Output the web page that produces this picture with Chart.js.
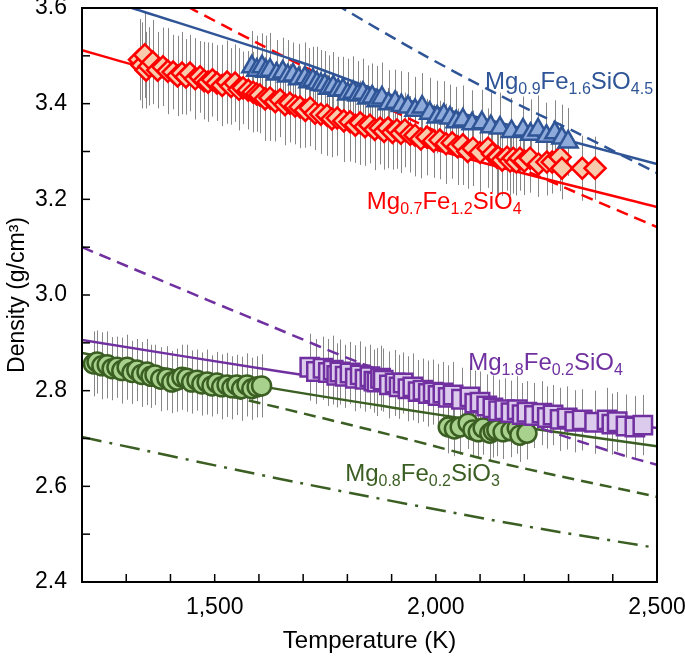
<!DOCTYPE html>
<html>
<head>
<meta charset="utf-8">
<script src="https://cdn.jsdelivr.net/npm/chart.js@4.4.1/dist/chart.umd.min.js"></script>
<style>
  html, body { margin: 0; padding: 0; background: #fff; }
  #wrap { width: 685px; height: 656px; }
</style>
</head>
<body>
<div id="wrap"><canvas id="densityChart" width="685" height="656"></canvas></div>
<script>
// Measured points (temperature K, density g/cm3, half error bar)
const redT = [1330,1336,1342,1345,1352,1360,1371,1383,1394,1406,1416,1426,1435,1444,1456,1467,1476,1485,1495,1505,
              1517,1528,1537,1546,1555,1564,1576,1587,1595,1602,1614,1625,1637,1648,1659,1670,1682,1693,1705,1716,
              1727,1740,1754,1765,1777,1792,1806,1818,1829,1840,1851,1862,1874,1883,1892,1902,1912,1921,1930,1942,
              1953,1966,1980,1995,2009,2023,2037,2049,2061,2072,2084,2100,2118,2128,2138,2141,2150,2161,2168,2175,
              2182,2190,2200,2213,2232,2251,2263,2281,2285,2331,2360];
const redRho = [3.492,3.480,3.502,3.470,3.478,3.487,3.470,3.477,3.468,3.466,3.458,3.464,3.456,3.464,3.452,3.456,3.448,3.445,3.450,3.443,
                3.438,3.445,3.436,3.443,3.430,3.433,3.428,3.424,3.420,3.418,3.410,3.412,3.404,3.408,3.398,3.401,3.395,3.393,3.386,3.391,
                3.380,3.378,3.376,3.368,3.370,3.364,3.362,3.355,3.360,3.352,3.355,3.346,3.349,3.342,3.349,3.340,3.345,3.338,3.345,3.336,
                3.334,3.326,3.330,3.322,3.324,3.316,3.318,3.310,3.314,3.300,3.307,3.298,3.307,3.295,3.288,3.288,3.282,3.288,3.280,3.286,
                3.278,3.286,3.280,3.286,3.274,3.278,3.278,3.288,3.265,3.265,3.265];
const redErr = [0.085,0.09,0.09,0.08,0.082,0.088,0.08,0.082,0.09,0.078,0.084,0.086,0.079,0.08,0.085,0.075,0.081,0.083,0.077,0.079,
                0.085,0.087,0.08,0.081,0.086,0.076,0.082,0.084,0.079,0.08,0.088,0.09,0.083,0.078,0.085,0.082,0.08,0.086,0.078,0.08,
                0.077,0.083,0.085,0.08,0.079,0.086,0.083,0.079,0.088,0.082,0.08,0.085,0.076,0.08,0.084,0.078,0.081,0.083,0.078,0.08,
                0.086,0.082,0.08,0.077,0.082,0.084,0.075,0.08,0.084,0.078,0.079,0.082,0.083,0.08,0.077,0.081,0.075,0.07,0.072,0.074,
                0.07,0.068,0.071,0.072,0.069,0.07,0.066,0.071,0.065,0.068,0.066];

const blueT = [1584,1595,1607,1616,1625,1640,1654,1665,1677,1690,1704,1713,1722,1731,1740,1749,1758,1768,1779,1790,
               1801,1813,1824,1835,1846,1856,1867,1878,1893,1908,1922,1937,1953,1969,1986,2003,2018,2032,2046,2061,
               2082,2104,2124,2145,2171,2197,2214,2231,2250,2269,2285,2299];
const blueRho = [3.477,3.470,3.477,3.468,3.470,3.462,3.466,3.458,3.460,3.452,3.454,3.446,3.449,3.443,3.440,3.439,3.432,3.435,3.428,3.429,
                 3.420,3.424,3.418,3.422,3.412,3.414,3.406,3.412,3.400,3.403,3.396,3.393,3.386,3.393,3.380,3.372,3.376,3.370,3.362,3.366,
                 3.358,3.360,3.352,3.349,3.342,3.345,3.336,3.345,3.332,3.339,3.328,3.320];
const blueErr = [0.075,0.072,0.07,0.074,0.078,0.071,0.072,0.075,0.068,0.073,0.074,0.07,0.07,0.076,0.072,0.071,0.069,0.073,0.07,0.069,
                 0.074,0.075,0.071,0.072,0.068,0.07,0.073,0.074,0.07,0.068,0.072,0.073,0.07,0.071,0.074,0.076,0.071,0.07,0.073,0.072,
                 0.07,0.069,0.072,0.074,0.07,0.07,0.073,0.072,0.07,0.068,0.07,0.071];

const purpleT = [1715,1730,1745,1757,1768,1776,1783,1795,1806,1818,1829,1840,1851,1860,1867,1875,1881,1895,1908,1917,
                 1926,1937,1948,1960,1971,1983,1994,2005,2016,2028,2039,2058,2077,2088,2100,2115,2129,2142,2156,2170,
                 2184,2195,2206,2223,2240,2252,2265,2281,2297,2314,2331,2359,2387,2398,2410,2430,2450,2468];
const purpleRho = [2.849,2.840,2.847,2.838,2.843,2.832,2.839,2.830,2.837,2.826,2.833,2.824,2.829,2.820,2.818,2.826,2.822,2.812,2.816,2.808,
                   2.816,2.804,2.808,2.798,2.801,2.794,2.797,2.790,2.795,2.786,2.791,2.782,2.787,2.774,2.776,2.768,2.764,2.758,2.760,2.754,
                   2.760,2.750,2.755,2.748,2.753,2.744,2.749,2.740,2.743,2.736,2.739,2.734,2.739,2.730,2.735,2.726,2.724,2.728];
const purpleErr = [0.07,0.068,0.066,0.07,0.072,0.067,0.068,0.066,0.065,0.069,0.07,0.068,0.067,0.066,0.071,0.068,0.066,0.07,0.069,0.067,
                   0.064,0.068,0.07,0.066,0.066,0.069,0.068,0.066,0.065,0.067,0.069,0.066,0.067,0.068,0.064,0.066,0.068,0.065,0.066,0.067,
                   0.07,0.066,0.065,0.068,0.067,0.065,0.063,0.066,0.066,0.065,0.064,0.066,0.067,0.064,0.062,0.066,0.065,0.063];

const greenT = [1226,1234,1245,1257,1268,1279,1290,1302,1313,1324,1335,1347,1356,1365,1378,1392,1403,1415,1426,1437,
                1448,1460,1471,1483,1494,1505,1516,1528,1539,1550,1561,1573,1584,1596,1606,
                2028,2042,2055,2073,2084,2096,2107,2122,2130,2138,2152,2170,2184,2190,2206];
const greenRho = [2.856,2.860,2.852,2.854,2.846,2.849,2.842,2.849,2.838,2.843,2.834,2.839,2.830,2.833,2.824,2.826,2.818,2.822,2.828,2.826,
                  2.818,2.822,2.814,2.818,2.810,2.816,2.808,2.812,2.806,2.812,2.804,2.812,2.804,2.808,2.810,
                  2.724,2.720,2.724,2.732,2.718,2.714,2.722,2.711,2.716,2.718,2.714,2.716,2.722,2.707,2.711];
const greenErr = [0.068,0.066,0.07,0.07,0.066,0.064,0.069,0.068,0.066,0.065,0.068,0.069,0.066,0.063,0.067,0.067,0.065,0.066,0.068,0.07,
                  0.066,0.064,0.066,0.068,0.064,0.065,0.068,0.067,0.066,0.063,0.067,0.066,0.065,0.064,0.066,
                  0.055,0.057,0.058,0.054,0.057,0.055,0.056,0.059,0.056,0.055,0.057,0.055,0.054,0.056,0.055];

// Model curves
const blueSolidT = [1200,1313,1693,1919,2145,2500];
const blueSolidRho = [3.633,3.600,3.487,3.412,3.360,3.274];
const blueDashT = [1700,1788,1964,2145,2326,2500];
const blueDashRho = [3.648,3.600,3.506,3.417,3.336,3.255];
const redSolidT = [1200,1286,1693,2100,2500];
const redSolidRho = [3.512,3.489,3.385,3.278,3.184];
const redDashT = [1400,1444,1596,1731,1980,2288,2500];
const redDashRho = [3.620,3.600,3.527,3.464,3.351,3.226,3.142];
const purpleSolidT = [1200,1648,2500];
const purpleSolidRho = [2.906,2.840,2.722];
const purpleDashT = [1200,1483,1632,1829,2229,2423,2500];
const purpleDashRho = [3.100,2.990,2.933,2.858,2.724,2.665,2.645];
const greenSolidT = [1200,1600,1900,2200,2500];
const greenSolidRho = [2.879,2.810,2.765,2.723,2.684];
const greenDashT = [1200,1648,1926,2145,2500];
const greenDashRho = [2.860,2.764,2.701,2.649,2.578];
const greenDashDotT = [1200,1693,2190,2500];
const greenDashDotRho = [2.703,2.607,2.519,2.471];

// Composition labels: normal / subscript alternating
const blueLabel = ['Mg','0.9','Fe','1.6','SiO','4.5'];
const redLabel = ['Mg','0.7','Fe','1.2','SiO','4'];
const purpleLabel = ['Mg','1.8','Fe','0.2','SiO','4'];
const greenLabel = ['Mg','0.8','Fe','0.2','SiO','3'];

const FONT = "'Liberation Sans', Arial, Helvetica, sans-serif";
const BLUE = '#2f5597', RED = '#ff0000', PURPLE = '#7030a0', GREEN = '#3b5e22';

const pts = (xs, ys) => xs.map((x, i) => ({ x: x, y: ys[i] }));

function markers(label, xs, ys, errs, style, radius, fill, stroke) {
    return {
        type: 'scatter', label: label, data: pts(xs, ys), errors: errs,
        pointStyle: style, pointRadius: radius, pointBackgroundColor: fill,
        pointBorderColor: stroke, pointBorderWidth: 2.5, order: 1
    };
}
function curve(label, xs, ys, color, dash) {
    return {
        type: 'line', label: label, data: pts(xs, ys), showLine: true,
        borderColor: color, borderWidth: 2.5, borderDash: dash, pointRadius: 0,
        tension: 0.3, fill: false, order: 2
    };
}

// gray error bars under everything else
const errorBars = {
    id: 'errorBars',
    beforeDatasetsDraw(chart) {
        const ctx = chart.ctx, y = chart.scales.y;
        const a = chart.chartArea;
        ctx.save();
        ctx.beginPath();
        ctx.rect(a.left, a.top, a.right - a.left, a.bottom - a.top);
        ctx.clip();
        ctx.strokeStyle = 'rgba(105,105,105,0.8)';
        ctx.lineWidth = 1;
        chart.data.datasets.forEach((ds, i) => {
            if (!ds.errors) return;
            chart.getDatasetMeta(i).data.forEach((pt, j) => {
                const v = ds.data[j].y, e = ds.errors[j];
                const px = Math.round(pt.x) + 0.5;
                ctx.beginPath();
                ctx.moveTo(px, y.getPixelForValue(v + e));
                ctx.lineTo(px, y.getPixelForValue(v - e));
                ctx.stroke();
            });
        });
        ctx.restore();
    }
};

// box around plot + inward ticks
const frame = {
    id: 'frame',
    afterDatasetsDraw(chart) {
        const ctx = chart.ctx, a = chart.chartArea;
        ctx.save();
        ctx.strokeStyle = '#000';
        ctx.lineWidth = 2;
        ctx.strokeRect(a.left, a.top, a.right - a.left, a.bottom - a.top);
        ctx.lineWidth = 1.5;
        chart.scales.y.ticks.forEach(t => {
            const py = chart.scales.y.getPixelForValue(t.value);
            ctx.beginPath(); ctx.moveTo(a.left, py); ctx.lineTo(a.left + 8, py); ctx.stroke();
        });
        chart.scales.x.ticks.forEach(t => {
            const px = chart.scales.x.getPixelForValue(t.value);
            ctx.beginPath(); ctx.moveTo(px, a.bottom); ctx.lineTo(px, a.bottom - 8); ctx.stroke();
        });
        ctx.restore();
    }
};

// chemical formula labels with subscripts
const formulaLabels = {
    id: 'formulaLabels',
    afterDatasetsDraw(chart) {
        const ctx = chart.ctx, xs = chart.scales.x, ys = chart.scales.y;
        const items = [
            [blueLabel, 2111, 3.431, BLUE],
            [redLabel, 1844, 3.180, RED],
            [purpleLabel, 2073, 2.843, PURPLE],
            [greenLabel, 1795, 2.611, GREEN]
        ];
        ctx.save();
        ctx.textBaseline = 'alphabetic';
        ctx.textAlign = 'left';
        items.forEach(([parts, T, rho, color]) => {
            let x = xs.getPixelForValue(T);
            const y = ys.getPixelForValue(rho);
            ctx.fillStyle = color;
            parts.forEach((p, k) => {
                const sub = k % 2 === 1;
                ctx.font = (sub ? '16px ' : '24px ') + FONT;
                ctx.fillText(p, x, sub ? y + 5 : y);
                x += ctx.measureText(p).width;
            });
        });
        ctx.restore();
    }
};

new Chart(document.getElementById('densityChart'), {
    type: 'scatter',
    data: {
        datasets: [
            markers('Mg0.9Fe1.6SiO4.5', blueT, blueRho, blueErr, 'triangle', 11, '#8eaadb', BLUE),
            markers('Mg0.7Fe1.2SiO4', redT, redRho, redErr, 'rectRot', 10.5, '#f8cbad', RED),
            markers('Mg1.8Fe0.2SiO4', purpleT, purpleRho, purpleErr, 'rect', 13, '#dccbec', PURPLE),
            markers('Mg0.8Fe0.2SiO3', greenT, greenRho, greenErr, 'circle', 9.5, '#a9d18e', GREEN),
            curve('blue model', blueSolidT, blueSolidRho, BLUE, []),
            curve('blue model 2', blueDashT, blueDashRho, BLUE, [12, 7]),
            curve('red model', redSolidT, redSolidRho, RED, []),
            curve('red model 2', redDashT, redDashRho, RED, [12, 7]),
            curve('purple model', purpleSolidT, purpleSolidRho, PURPLE, []),
            curve('purple model 2', purpleDashT, purpleDashRho, PURPLE, [12, 7]),
            curve('green model', greenSolidT, greenSolidRho, GREEN, []),
            curve('green model 2', greenDashT, greenDashRho, GREEN, [12, 7]),
            curve('green model 3', greenDashDotT, greenDashDotRho, GREEN, [20, 8, 3, 8])
        ]
    },
    options: {
        responsive: false,
        animation: false,
        layout: { autoPadding: false, padding: { top: 8, right: 28, left: 0, bottom: 0 } },
        plugins: { legend: { display: false }, tooltip: { enabled: false } },
        scales: {
            x: {
                type: 'linear', min: 1200, max: 2500,
                grid: { display: false, drawTicks: false },
                border: { display: false },
                ticks: {
                    stepSize: 100, autoSkip: false, maxRotation: 0, padding: 12,
                    color: '#000', font: { family: FONT, size: 23 },
                    callback: v => (v % 500 === 0 ? v.toLocaleString('en-US') : '')
                },
                title: { display: true, text: 'Temperature (K)', color: '#000',
                         font: { family: FONT, size: 24 }, padding: { top: 0, bottom: 0 } },
                afterFit: s => { s.height = 74; s.paddingLeft = 0; s.paddingRight = 0; }
            },
            y: {
                min: 2.4, max: 3.6,
                grid: { display: false, drawTicks: false },
                border: { display: false },
                ticks: {
                    stepSize: 0.1, autoSkip: false, padding: 15,
                    color: '#000', font: { family: FONT, size: 23 },
                    callback: v => (Math.round(v * 10) % 2 === 0 ? v.toFixed(1) : '')
                },
                title: { display: true, text: 'Density (g/cm\u00b3)', color: '#000',
                         font: { family: FONT, size: 23 }, padding: { top: 4, bottom: 0 } },
                afterFit: s => { s.width = 82; s.paddingTop = 0; s.paddingBottom = 0; }
            }
        }
    },
    plugins: [errorBars, frame, formulaLabels]
});
</script>
</body>
</html>
